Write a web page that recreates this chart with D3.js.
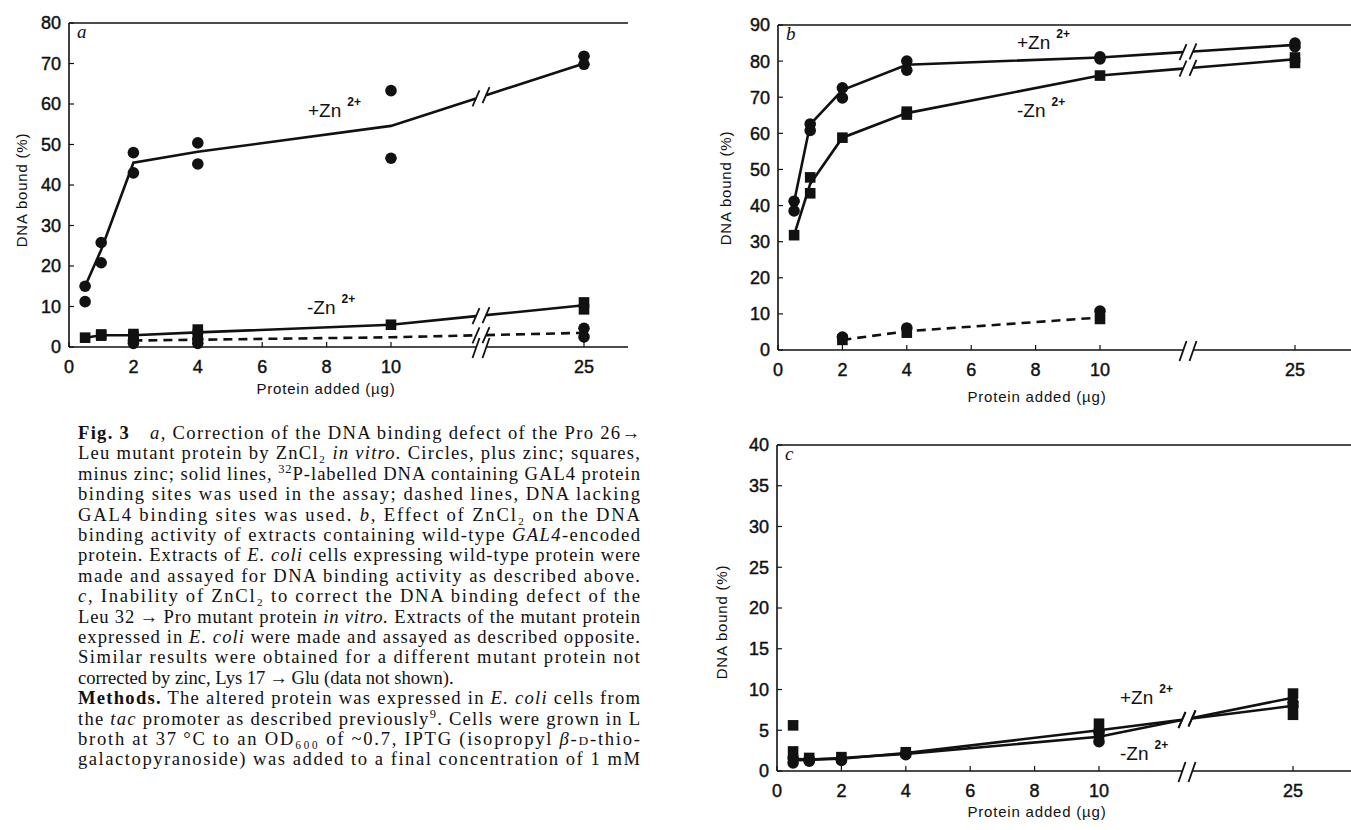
<!DOCTYPE html>
<html><head><meta charset="utf-8">
<script src="https://cdn.jsdelivr.net/npm/d3@7"></script>
<style>body{margin:0;background:#fff}</style>
</head><body>
<svg id="fig" width="1351" height="830"></svg>
<script>
// ---------------- DATA ----------------
const xTickValues = [0, 2, 4, 6, 8, 10, 25];
const yTicksA = [0, 10, 20, 30, 40, 50, 60, 70, 80];
const yTicksB = [0, 10, 20, 30, 40, 50, 60, 70, 80, 90];
const yTicksC = [0, 5, 10, 15, 20, 25, 30, 35, 40];

// Panel a
const aPlusPts   = [[0.5,15],[0.5,11.2],[1,25.8],[1,20.8],[2,48],[2,43],[4,50.4],[4,45.2],[10,63.3],[10,46.6],[25,71.8],[25,69.8]];
const aPlusLine  = [[0.5,15],[1,24],[2,45.5],[4,48.2],[10,54.6],[25,70]];
const aMinusPts  = [[0.5,2.3],[1,2.8],[1,3.1],[2,2.6],[2,3.2],[4,3.2],[4,4.3],[10,5.5],[25,11],[25,9.3]];
const aMinusLine = [[0.5,2.3],[1,2.9],[2,2.9],[4,3.6],[10,5.5],[25,10.3]];
const aDashPts   = [[2,1.6],[2,0.9],[4,1.9],[4,0.9],[25,4.6],[25,2.5]];
const aDashLine  = [[2,1.6],[4,1.8],[10,2.4],[25,3.5]];

// Panel b
const bPlusPts   = [[0.5,41.2],[0.5,38.5],[1,62.6],[1,60.8],[2,72.6],[2,69.8],[4,80],[4,77.5],[10,81.2],[10,80.6],[25,85],[25,84]];
const bPlusLine  = [[0.5,41],[1,62.5],[2,72],[4,79],[10,81],[25,84.5]];
const bMinusPts  = [[0.5,31.8],[1,47.8],[1,43.4],[2,58.8],[4,66],[4,65.2],[10,76],[25,81],[25,79.5]];
const bMinusLine = [[0.5,31.8],[1,46],[2,58.8],[4,65.6],[10,76],[25,80.5]];
const bDashCircles = [[2,3.6],[4,6.1],[10,10.8]];
const bDashSquares = [[2,2.8],[4,4.8],[10,8.6]];
const bDashLine  = [[2,2.8],[4,5.2],[10,9]];

// Panel c
const cPlusPts   = [[0.5,1.6],[0.5,1.0],[1,1.5],[1,1.2],[2,1.5],[2,1.3],[4,2.2],[4,2.0],[10,4.8],[10,3.6],[25,8.4],[25,7.9]];
const cMinusPts  = [[0.5,5.6],[0.5,2.4],[1,1.6],[2,1.7],[4,2.3],[10,5.8],[10,4.6],[25,9.5],[25,6.9]];
const cPlusLine  = [[0.5,1.5],[1,1.4],[2,1.5],[4,2.2],[10,5.0],[25,8.0]];
const cMinusLine = [[0.5,1.3],[1,1.4],[2,1.6],[4,2.1],[10,4.2],[25,9.0]];

// Caption (segments: [style, text]; n normal, i italic, b bold, sup, sc small caps)
const captionLines = [
  {j:true, s:[["b","Fig. 3"],["n","\u2003"],["i","a"],["n",", Correction of the DNA binding defect of the Pro 26\u2192"]]},
  {j:true, s:[["n","Leu mutant protein by ZnCl\u2082 "],["i","in vitro."],["n"," Circles, plus zinc; squares,"]]},
  {j:true, s:[["n","minus zinc; solid lines, "],["sup","32"],["n","P-labelled DNA containing GAL4 protein"]]},
  {j:true, s:[["n","binding sites was used in the assay; dashed lines, DNA lacking"]]},
  {j:true, s:[["n","GAL4 binding sites was used. "],["i","b"],["n",", Effect of ZnCl\u2082 on the DNA"]]},
  {j:true, s:[["n","binding activity of extracts containing wild-type "],["i","GAL4"],["n","-encoded"]]},
  {j:true, s:[["n","protein. Extracts of "],["i","E. coli"],["n"," cells expressing wild-type protein were"]]},
  {j:true, s:[["n","made and assayed for DNA binding activity as described above."]]},
  {j:true, s:[["i","c"],["n",", Inability of ZnCl\u2082 to correct the DNA binding defect of the"]]},
  {j:true, s:[["n","Leu 32\u2009\u2192\u2009Pro mutant protein "],["i","in vitro."],["n"," Extracts of the mutant protein"]]},
  {j:true, s:[["n","expressed in "],["i","E. coli"],["n"," were made and assayed as described opposite."]]},
  {j:true, s:[["n","Similar results were obtained for a different mutant protein not"]]},
  {j:false, s:[["n","corrected by zinc, Lys 17\u2009\u2192\u2009Glu (data not shown)."]]},
  {j:true, s:[["b","Methods."],["n"," The altered protein was expressed in "],["i","E. coli"],["n"," cells from"]]},
  {j:true, s:[["n","the "],["i","tac"],["n"," promoter as described previously"],["sup","9"],["n",". Cells were grown in L"]]},
  {j:true, s:[["n","broth at 37\u2009\u00b0C to an OD\u2086\u2080\u2080 of ~0.7, IPTG (isopropyl "],["i","\u03b2"],["n","-"],["sc","D"],["n","-thio-"]]},
  {j:true, s:[["n","galactopyranoside) was added to a final concentration of 1 mM"]]}
];

// ---------------- DRAWING ----------------
const SANS = "'Liberation Sans', Arial, Helvetica, sans-serif";
const SERIF = "'Liberation Serif', 'Times New Roman', 'DejaVu Serif', serif";
const INK = "#111";
const svg = d3.select("#fig");
svg.append("rect").attr("width",1351).attr("height",830).attr("fill","#fff");

const panels = [
  {letter:"a", xr:[69,391,584], xEnd:628, yr:[347,23], yMax:80, yTicks:yTicksA, bx:481,
   yTitle:[22,190], xTitle:[326,389],
   series:[
     {line:aPlusLine, dash:false, circles:aPlusPts, squares:[]},
     {line:aMinusLine, dash:false, circles:[], squares:aMinusPts},
     {line:aDashLine, dash:true, circles:aDashPts, squares:[]}
   ],
   labels:[{t:"+Zn", x:308, y:117}, {t:"-Zn", x:307, y:314}]},
  {letter:"b", xr:[778,1100,1295], xEnd:1351, yr:[350,25], yMax:90, yTicks:yTicksB, bx:1188,
   yTitle:[726,188], xTitle:[1037,397],
   series:[
     {line:bPlusLine, dash:false, circles:bPlusPts, squares:[]},
     {line:bMinusLine, dash:false, circles:[], squares:bMinusPts},
     {line:bDashLine, dash:true, circles:bDashCircles, squares:bDashSquares}
   ],
   labels:[{t:"+Zn", x:1017, y:49}, {t:"-Zn", x:1017, y:117}]},
  {letter:"c", xr:[777,1099,1293], xEnd:1351, yr:[771,445], yMax:40, yTicks:yTicksC, bx:1187,
   yTitle:[722,622], xTitle:[1037,812],
   series:[
     {line:cPlusLine, dash:false, circles:cPlusPts, squares:[]},
     {line:cMinusLine, dash:false, circles:[], squares:cMinusPts}
   ],
   labels:[{t:"+Zn", x:1120, y:704}, {t:"-Zn", x:1120, y:760}]}
];

function slash(g, x, y, h) {
  g.append("path").attr("d", `M${x-3.5},${y+h} L${x+3.5},${y-h}`)
    .attr("stroke", INK).attr("stroke-width", 1.8).attr("fill","none");
}

function splitAtBreak(pts, bx, gap) {
  const segs = [[]];
  for (let i = 0; i < pts.length; i++) {
    const p = pts[i];
    if (i > 0) {
      const q = pts[i-1];
      if (q[0] < bx && p[0] > bx) {
        const f = t => q[1] + (p[1]-q[1]) * (t - q[0]) / (p[0]-q[0]);
        segs[segs.length-1].push([bx-gap, f(bx-gap)]);
        segs.push([[bx+gap, f(bx+gap)]]);
      }
    }
    segs[segs.length-1].push(p);
  }
  return segs;
}

panels.forEach(P => {
  const g = svg.append("g");
  const x = d3.scaleLinear().domain([0,10,25]).range(P.xr);
  const y = d3.scaleLinear().domain([0,P.yMax]).range(P.yr);
  const x0 = P.xr[0], yB = P.yr[0], yT = P.yr[1];
  const gap = 5;

  g.append("line").attr("x1",x0).attr("x2",x0).attr("y1",yB).attr("y2",yT)
    .attr("stroke",INK).attr("stroke-width",1.6);
  g.append("line").attr("x1",x0).attr("x2",P.xEnd).attr("y1",yT).attr("y2",yT)
    .attr("stroke",INK).attr("stroke-width",1.6);
  g.append("line").attr("x1",x0).attr("x2",P.bx-gap).attr("y1",yB).attr("y2",yB)
    .attr("stroke",INK).attr("stroke-width",1.6);
  g.append("line").attr("x1",P.bx+gap).attr("x2",P.xEnd).attr("y1",yB).attr("y2",yB)
    .attr("stroke",INK).attr("stroke-width",1.6);
  slash(g, P.bx-gap, yB+1, 10); slash(g, P.bx+gap, yB+1, 10);

  P.yTicks.forEach(v => {
    g.append("line").attr("x1",x0).attr("x2",x0+5).attr("y1",y(v)).attr("y2",y(v))
      .attr("stroke",INK).attr("stroke-width",1.2);
    g.append("text").attr("x",x0-8).attr("y",y(v)).attr("dy","0.36em")
      .attr("text-anchor","end").attr("font-family",SANS).attr("font-size",18)
      .attr("fill",INK).attr("stroke",INK).attr("stroke-width",0.45).text(v);
  });
  xTickValues.forEach(v => {
    g.append("line").attr("x1",x(v)).attr("x2",x(v)).attr("y1",yB).attr("y2",yB-5)
      .attr("stroke",INK).attr("stroke-width",1.2);
    g.append("text").attr("x",x(v)).attr("y",yB+20).attr("dy","0.36em")
      .attr("text-anchor","middle").attr("font-family",SANS).attr("font-size",18)
      .attr("fill",INK).attr("stroke",INK).attr("stroke-width",0.45).text(v);
  });

  g.append("text").attr("transform",`translate(${P.yTitle[0]},${P.yTitle[1]}) rotate(-90)`)
    .attr("text-anchor","middle").attr("dy","0.35em").attr("font-family",SANS)
    .attr("font-size",15).attr("letter-spacing",0.8).attr("fill",INK).text("DNA bound (%)");
  g.append("text").attr("x",P.xTitle[0]).attr("y",P.xTitle[1]).attr("dy","0.35em")
    .attr("text-anchor","middle").attr("font-family",SANS)
    .attr("font-size",15).attr("letter-spacing",0.8).attr("fill",INK).text("Protein added (\u00b5g)");
  g.append("text").attr("x",x0+8).attr("y",yT+15).attr("font-family",SERIF)
    .attr("font-style","italic").attr("font-size",19).attr("fill",INK).text(P.letter);

  P.series.forEach(S => {
    const pts = S.line.map(d => [x(d[0]), y(d[1])]);
    const segs = splitAtBreak(pts, P.bx, gap);
    segs.forEach(seg => {
      g.append("path").attr("d", d3.line()(seg)).attr("fill","none")
        .attr("stroke",INK).attr("stroke-width",2.6)
        .attr("stroke-dasharray", S.dash ? "9,6" : null);
    });
    if (segs.length > 1) {
      const a = segs[0][segs[0].length-1], b = segs[1][0];
      slash(g, a[0], a[1], 8); slash(g, b[0], b[1], 8);
    }
    g.selectAll(null).data(S.circles).enter().append("circle")
      .attr("cx", d => x(d[0])).attr("cy", d => y(d[1])).attr("r", 5.8).attr("fill", INK);
    g.selectAll(null).data(S.squares).enter().append("rect")
      .attr("x", d => x(d[0]) - 5.3).attr("y", d => y(d[1]) - 5.3)
      .attr("width", 10.6).attr("height", 10.6).attr("fill", INK);
  });

  P.labels.forEach(L => {
    const t = g.append("text").attr("x",L.x).attr("y",L.y).attr("font-family",SANS)
      .attr("font-size",19).attr("fill",INK);
    t.append("tspan").text(L.t);
    t.append("tspan").attr("dx",6).attr("dy",-11).attr("font-size",12)
      .attr("font-weight","bold").text("2+");
  });
});

// caption
const cap = svg.append("g");
const capX = 78, capW = 562, capY0 = 439, capLH = 20.4, capFS = 18.6;
captionLines.forEach((L, i) => {
  const t = cap.append("text").attr("x",capX).attr("y",capY0 + i*capLH)
    .attr("font-family",SERIF).attr("font-size",capFS).attr("fill",INK);
  if (L.j) t.attr("textLength",capW).attr("lengthAdjust","spacing");
  let shift = 0;
  L.s.forEach(([st, txt]) => {
    const ts = t.append("tspan").text(txt);
    let target = 0;
    if (st === "sup") { target = -7; ts.attr("font-size",12.5); }
    else if (st === "sc") { ts.attr("font-size",13.5); }
    if (st === "i") ts.attr("font-style","italic");
    if (st === "b") ts.attr("font-weight","bold");
    if (target !== shift) { ts.attr("dy", target - shift); shift = target; }
  });
});
</script>
</body></html>
